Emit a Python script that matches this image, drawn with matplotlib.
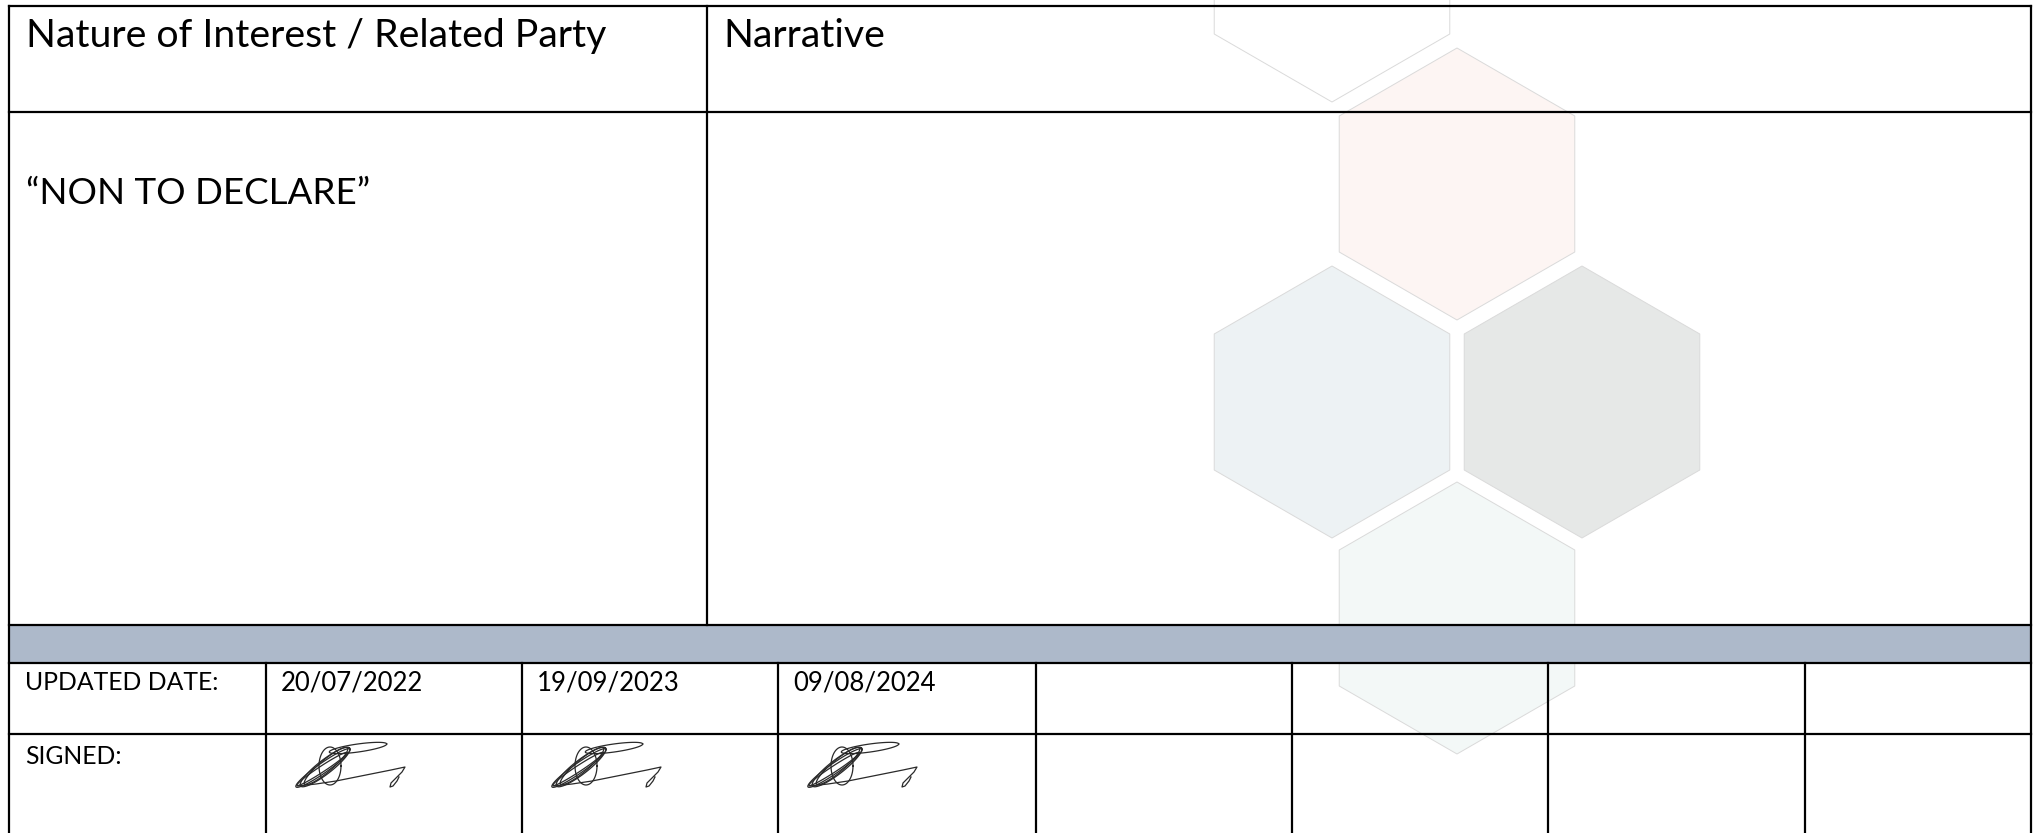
import numpy as np
import matplotlib
matplotlib.use('Agg')
import matplotlib.pyplot as plt
from matplotlib.patches import RegularPolygon, Rectangle

# text content of the form
header_labels = ['Nature of Interest / Related Party', 'Narrative']
body_text = '\u201cNON TO DECLARE\u201d'
row_labels = ['UPDATED DATE:', 'SIGNED:']
dates = ['20/07/2022', '19/09/2023', '09/08/2024', '', '', '', '']
signed = [True, True, True, False, False, False, False]

# watermark hexagons (centre x, centre y, fill)
hex_x = [1332, 1457, 1332, 1582, 1457]
hex_y = [-34, 184, 402, 402, 618]
hex_fill = ['#FFFFFF', '#FDF5F3', '#EDF2F4', '#E6E8E7', '#F3F8F7']

plt.rcParams['font.family'] = ['Lato', 'DejaVu Sans']

W, H = 2038, 833
fig = plt.figure(figsize=(W / 100, H / 100), dpi=100)
ax = fig.add_axes([0, 0, 1, 1])
ax.set_xlim(0, W)
ax.set_ylim(H, 0)
ax.axis('off')

# table geometry
left, right, top = 9, 2031, 6
y_head, y_body, y_band, y_dates = 112, 625, 663, 734
x_split = 707
col_edges = [9, 266, 522, 778, 1036, 1292, 1548, 1805, 2031]

# hexagons
for cx, cy, fc in zip(hex_x, hex_y, hex_fill):
    ax.add_patch(RegularPolygon((cx, cy), numVertices=6, radius=136, orientation=0,
                                facecolor=fc, edgecolor='#DADADA', lw=0.7,
                                joinstyle='round', zorder=1))

# grey band
ax.add_patch(Rectangle((left, y_body), right - left, y_band - y_body,
                       facecolor='#ADB9CA', edgecolor='none', zorder=2))

lw = 1.6
for y in [top, y_head, y_body, y_band, y_dates]:
    ax.plot([left, right], [y, y], color='black', lw=lw, zorder=3, solid_capstyle='projecting')
ax.plot([left, left], [top, H + 5], color='black', lw=lw, zorder=3)
ax.plot([right, right], [top, H + 5], color='black', lw=lw, zorder=3)
ax.plot([x_split, x_split], [top, y_body], color='black', lw=lw, zorder=3)
for x in col_edges[1:-1]:
    ax.plot([x, x], [y_band, H + 5], color='black', lw=lw, zorder=3)

# header and body text
ax.text(26, 36, header_labels[0], fontsize=28.3, va='center', ha='left', zorder=4)
ax.text(x_split + 16, 36, header_labels[1], fontsize=28.3, va='center', ha='left', zorder=4)
ax.text(26, 193, body_text, fontsize=26.5, va='center', ha='left', zorder=4)

# bottom rows
ax.text(25, 683, row_labels[0], fontsize=17.8, va='center', ha='left', zorder=4)
ax.text(25, 757, row_labels[1], fontsize=17.8, va='center', ha='left', zorder=4)

# signature template (relative to cell, y downwards)
t = np.linspace(0, 2 * np.pi, 60)
sig_strokes = []
for cx, cy, a, b, ang in [(27, 28, 33, 5, -0.61), (29, 27, 31, 7, -0.66),
                          (26, 29, 30, 3, -0.58), (30, 26, 28, 6, -0.70),
                          (62, 8, 29, 4, -0.14), (34, 26, 11, 19, 0.0)]:
    ex = a * np.cos(t)
    ey = b * np.sin(t)
    sig_strokes.append((cx + ex * np.cos(ang) - ey * np.sin(ang),
                        cy + ex * np.sin(ang) + ey * np.cos(ang)))
tail_x = [2, 20, 40, 60, 80, 95, 109, 106, 100, 95, 94, 97, 101, 103]
tail_y = [46, 44, 41, 37, 33, 30, 27, 32, 38, 43, 47, 46, 41, 37]
sig_strokes.append((np.array(tail_x), np.array(tail_y)))

for i, (d, s) in enumerate(zip(dates, signed)):
    x0 = col_edges[i + 1]
    if d:
        ax.text(x0 + 15, 683, d, fontsize=18.5, va='center', ha='left', zorder=4)
    if s:
        sx, sy = x0 + 30, 740
        for lx, ly in sig_strokes:
            ax.plot(sx + lx, sy + ly, color='#2A2A2A', lw=0.9, zorder=4)

fig.savefig('out.png', dpi=100)
